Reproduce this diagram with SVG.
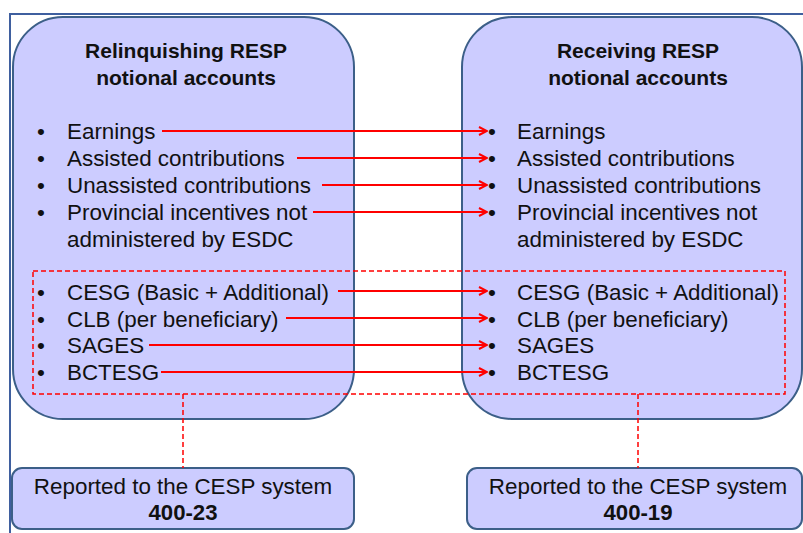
<svg xmlns="http://www.w3.org/2000/svg" width="803" height="533" viewBox="0 0 803 533">
<defs>
<marker id="ah" viewBox="0 0 10 10" refX="9" refY="5" markerWidth="10" markerHeight="10" markerUnits="userSpaceOnUse" orient="auto">
<polyline points="1,1 9,5 1,9" fill="none" stroke="#FF0000" stroke-width="2"/>
</marker>
<style>
.box{fill:#CCCCFF;stroke:#3C5F88;stroke-width:2}
.t{font-family:"Liberation Sans",Arial,sans-serif;font-size:22.4px;fill:#111}
.b{font-weight:bold;font-size:21px}
.bb{font-weight:bold;font-size:22.2px}
.c{text-anchor:middle}
.arr{stroke:#FF0000;stroke-width:2;fill:none;marker-end:url(#ah)}
.dash{stroke:#FF0000;stroke-width:1.5;fill:none;stroke-dasharray:5,3}
</style>
</defs>
<rect width="803" height="533" fill="#FFFFFF"/>
<path d="M10,533 V14 H803" fill="none" stroke="#3F5F9F" stroke-width="2"/>

<g id="relinquishing">
<rect class="box" x="13" y="17" width="341" height="402" rx="50" ry="50"/>
<text class="t b c" x="186" y="58">Relinquishing RESP</text>
<text class="t b c" x="186" y="85">notional accounts</text>
<g class="t">
<text x="37" y="139">•</text><text x="67" y="139">Earnings</text>
<text x="37" y="166">•</text><text x="67" y="166">Assisted contributions</text>
<text x="37" y="193">•</text><text x="67" y="193">Unassisted contributions</text>
<text x="37" y="220">•</text><text x="67" y="220">Provincial incentives not</text>
<text x="67" y="247">administered by ESDC</text>
<text x="37" y="300">•</text><text x="67" y="300">CESG (Basic + Additional)</text>
<text x="37" y="327">•</text><text x="67" y="327">CLB (per beneficiary)</text>
<text x="37" y="353">•</text><text x="67" y="353">SAGES</text>
<text x="37" y="380">•</text><text x="67" y="380">BCTESG</text>
</g>
</g>

<g id="receiving">
<rect class="box" x="462" y="17" width="340" height="402" rx="50" ry="50"/>
<text class="t b c" x="638" y="58">Receiving RESP</text>
<text class="t b c" x="638" y="85">notional accounts</text>
<g class="t">
<text x="488" y="139">•</text><text x="517" y="139">Earnings</text>
<text x="488" y="166">•</text><text x="517" y="166">Assisted contributions</text>
<text x="488" y="193">•</text><text x="517" y="193">Unassisted contributions</text>
<text x="488" y="220">•</text><text x="517" y="220">Provincial incentives not</text>
<text x="517" y="247">administered by ESDC</text>
<text x="488" y="300">•</text><text x="517" y="300">CESG (Basic + Additional)</text>
<text x="488" y="327">•</text><text x="517" y="327">CLB (per beneficiary)</text>
<text x="488" y="353">•</text><text x="517" y="353">SAGES</text>
<text x="488" y="380">•</text><text x="517" y="380">BCTESG</text>
</g>
</g>

<g id="report-left">
<rect class="box" x="12" y="468" width="342" height="61" rx="10" ry="10"/>
<text class="t c" x="183" y="494">Reported to the CESP system</text>
<text class="t bb c" x="183" y="520">400-23</text>
</g>

<g id="report-right">
<rect class="box" x="467" y="468" width="335" height="61" rx="10" ry="10"/>
<text class="t c" x="638" y="494">Reported to the CESP system</text>
<text class="t bb c" x="638" y="520">400-19</text>
</g>

<g id="connectors">
<rect class="dash" x="33" y="271" width="752" height="123"/>
<line class="dash" x1="183" y1="394" x2="183" y2="468"/>
<line class="dash" x1="638" y1="394" x2="638" y2="468"/>
<line class="arr" x1="162" y1="131" x2="487" y2="131"/>
<line class="arr" x1="297" y1="158" x2="487" y2="158"/>
<line class="arr" x1="322" y1="185" x2="487" y2="185"/>
<line class="arr" x1="313" y1="212" x2="487" y2="212"/>
<line class="arr" x1="338" y1="291" x2="487" y2="291"/>
<line class="arr" x1="286" y1="318" x2="487" y2="318"/>
<line class="arr" x1="149" y1="345" x2="487" y2="345"/>
<line class="arr" x1="161" y1="372" x2="487" y2="372"/>
</g>
</svg>
